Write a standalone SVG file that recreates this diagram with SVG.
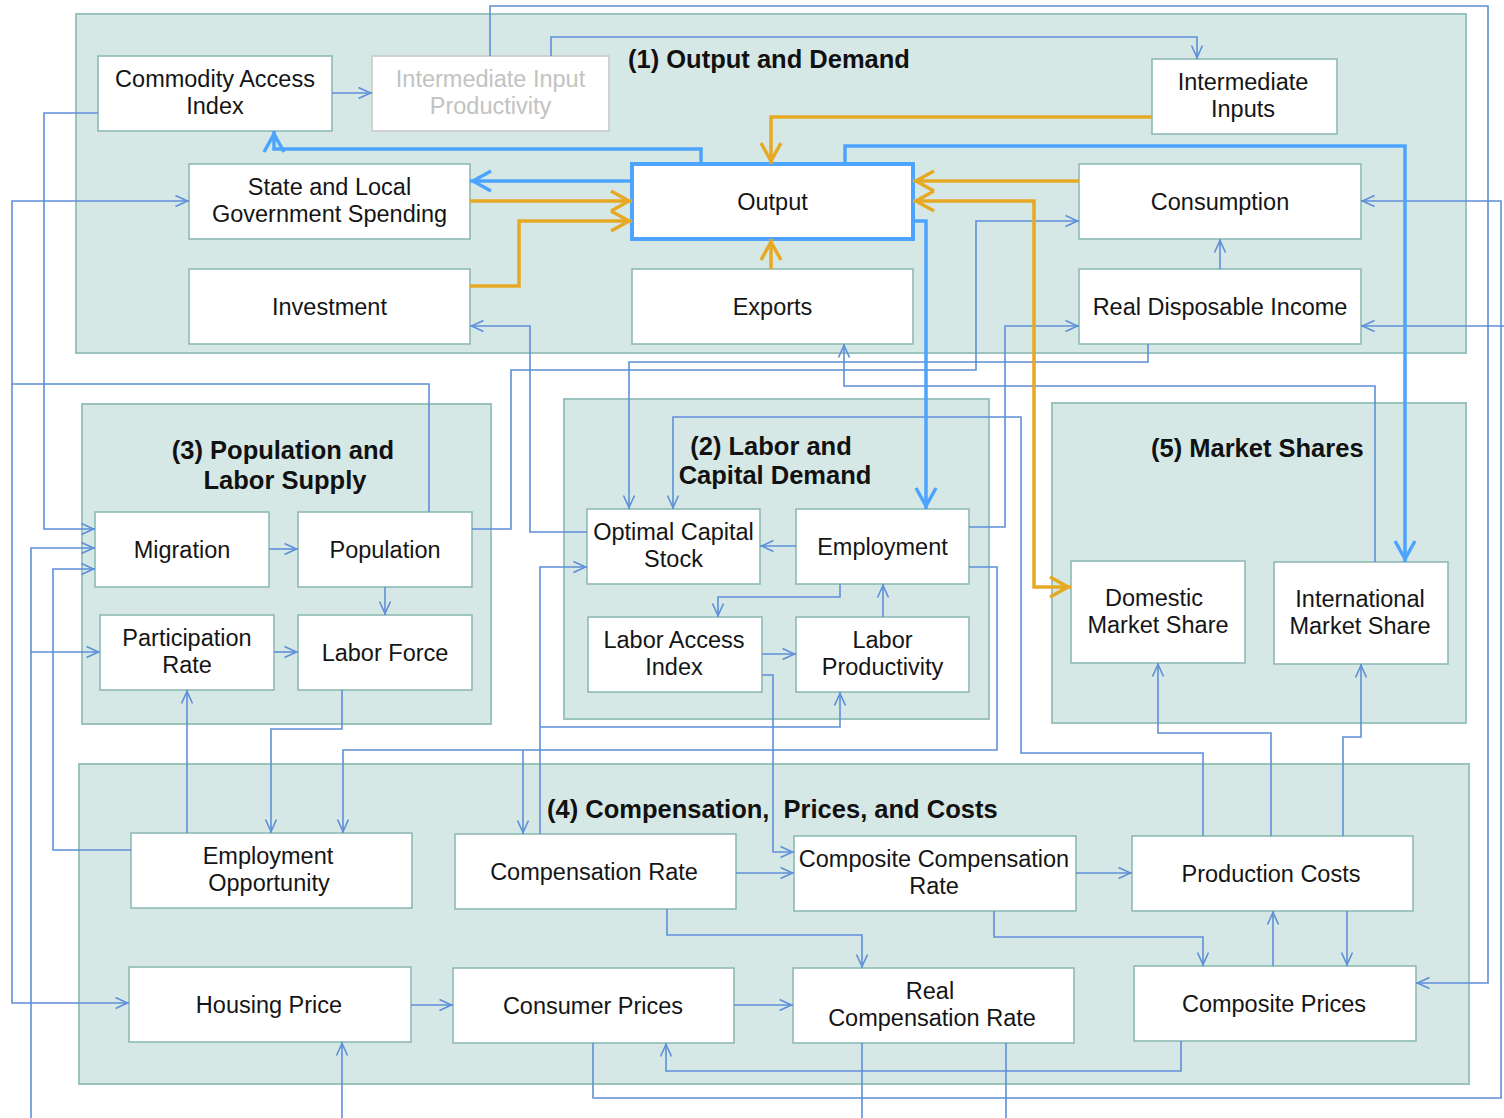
<svg xmlns="http://www.w3.org/2000/svg" width="1504" height="1118" viewBox="0 0 1504 1118">
  <style>
    .panel { fill: #d6e8e6; stroke: #9cc4bf; stroke-width: 2; }
    .node { fill: #ffffff; stroke: #8fbab5; stroke-width: 1.6; }
    .node.dim { stroke: #cacaca; }
    .node.main { stroke: #4ca4ff; stroke-width: 4; }
    .t { font-family: "Liberation Sans", Arial, sans-serif; font-size: 23.5px; fill: #151515; text-anchor: middle; }
    .t.dim { fill: #c2c2c2; }
    .h { font-family: "Liberation Sans", Arial, sans-serif; font-size: 25.5px; font-weight: bold; fill: #111111; }
    .c { fill: none; stroke: #5e8fd9; stroke-width: 1.6; marker-end: url(#a); }
    .c.n { marker-end: none; }
    .k { fill: none; stroke: #4ca4ff; stroke-width: 3.5; marker-end: url(#ab); }
    .g { fill: none; stroke: #e6a925; stroke-width: 3.5; marker-end: url(#ag); }
  </style>
  <defs>
    <marker id="a" markerUnits="userSpaceOnUse" viewBox="-16 -8 18 16" markerWidth="18" markerHeight="16" refX="0" refY="0" orient="auto" overflow="visible">
      <path d="M-13.5,-5.5 L-1.5,0 L-13.5,5.5" fill="none" stroke="#5e8fd9" stroke-width="1.6"/>
    </marker>
    <marker id="ab" markerUnits="userSpaceOnUse" viewBox="-24 -13 26 26" markerWidth="26" markerHeight="26" refX="0" refY="0" orient="auto" overflow="visible">
      <path d="M-21,-10 L-3,0 L-21,10" fill="none" stroke="#4ca4ff" stroke-width="3.5"/>
    </marker>
    <marker id="ag" markerUnits="userSpaceOnUse" viewBox="-24 -13 26 26" markerWidth="26" markerHeight="26" refX="0" refY="0" orient="auto-start-reverse" overflow="visible">
      <path d="M-21,-10 L-3,0 L-21,10" fill="none" stroke="#e6a925" stroke-width="3.5"/>
    </marker>
  </defs>

  <rect width="1504" height="1118" fill="#ffffff"/>

  <!-- block panels -->
  <g id="blocks">
    <rect class="panel" x="76" y="14" width="1390" height="339"/>
    <rect class="panel" x="82" y="404" width="409" height="320"/>
    <rect class="panel" x="564" y="399" width="425" height="320"/>
    <rect class="panel" x="1052" y="403" width="414" height="320"/>
    <rect class="panel" x="79" y="764" width="1390" height="320"/>
    <text class="h" x="628" y="68">(1) Output and Demand</text>
    <text class="h" x="283" y="459" text-anchor="middle">(3) Population and</text>
    <text class="h" x="285" y="489" text-anchor="middle">Labor Supply</text>
    <text class="h" x="771" y="455" text-anchor="middle">(2) Labor and</text>
    <text class="h" x="775" y="484" text-anchor="middle">Capital Demand</text>
    <text class="h" x="1151" y="457">(5) Market Shares</text>
    <text class="h" x="547" y="818" xml:space="preserve" style="white-space:pre">(4) Compensation,  Prices, and Costs</text>
  </g>

  <!-- (1) Output and Demand -->
  <g id="commodity-access-index">
    <rect class="node" x="98" y="56" width="234" height="75"/>
    <text class="t" x="215" y="87">Commodity Access</text>
    <text class="t" x="215" y="114">Index</text>
  </g>
  <g id="intermediate-input-productivity">
    <rect class="node dim" x="372" y="56" width="237" height="75"/>
    <text class="t dim" x="490.5" y="87">Intermediate Input</text>
    <text class="t dim" x="490.5" y="114">Productivity</text>
  </g>
  <g id="intermediate-inputs">
    <rect class="node" x="1152" y="59" width="185" height="75"/>
    <text class="t" x="1243" y="90">Intermediate</text>
    <text class="t" x="1243" y="117">Inputs</text>
  </g>
  <g id="state-local-spending">
    <rect class="node" x="189" y="164" width="281" height="75"/>
    <text class="t" x="329.5" y="195">State and Local</text>
    <text class="t" x="329.5" y="222">Government Spending</text>
  </g>
  <g id="output">
    <rect class="node main" x="632" y="164" width="281" height="75"/>
    <text class="t" x="772.5" y="209.5">Output</text>
  </g>
  <g id="consumption">
    <rect class="node" x="1079" y="164" width="282" height="75"/>
    <text class="t" x="1220" y="209.5">Consumption</text>
  </g>
  <g id="investment">
    <rect class="node" x="189" y="269" width="281" height="75"/>
    <text class="t" x="329.5" y="314.5">Investment</text>
  </g>
  <g id="exports">
    <rect class="node" x="632" y="269" width="281" height="75"/>
    <text class="t" x="772.5" y="314.5">Exports</text>
  </g>
  <g id="real-disposable-income">
    <rect class="node" x="1079" y="269" width="282" height="75"/>
    <text class="t" x="1220" y="314.5">Real Disposable Income</text>
  </g>

  <!-- (3) Population and Labor Supply -->
  <g id="migration">
    <rect class="node" x="95" y="512" width="174" height="75"/>
    <text class="t" x="182" y="557.5">Migration</text>
  </g>
  <g id="population">
    <rect class="node" x="298" y="512" width="174" height="75"/>
    <text class="t" x="385" y="557.5">Population</text>
  </g>
  <g id="participation-rate">
    <rect class="node" x="100" y="615" width="174" height="75"/>
    <text class="t" x="187" y="646">Participation</text>
    <text class="t" x="187" y="673">Rate</text>
  </g>
  <g id="labor-force">
    <rect class="node" x="298" y="615" width="174" height="75"/>
    <text class="t" x="385" y="660.5">Labor Force</text>
  </g>

  <!-- (2) Labor and Capital Demand -->
  <g id="optimal-capital-stock">
    <rect class="node" x="587" y="509" width="173" height="75"/>
    <text class="t" x="673.5" y="540">Optimal Capital</text>
    <text class="t" x="673.5" y="567">Stock</text>
  </g>
  <g id="employment">
    <rect class="node" x="796" y="509" width="173" height="75"/>
    <text class="t" x="882.5" y="554.5">Employment</text>
  </g>
  <g id="labor-access-index">
    <rect class="node" x="588" y="617" width="174" height="75"/>
    <text class="t" x="674" y="648">Labor Access</text>
    <text class="t" x="674" y="675">Index</text>
  </g>
  <g id="labor-productivity">
    <rect class="node" x="796" y="617" width="173" height="75"/>
    <text class="t" x="882.5" y="648">Labor</text>
    <text class="t" x="882.5" y="675">Productivity</text>
  </g>

  <!-- (5) Market Shares -->
  <g id="domestic-market-share">
    <rect class="node" x="1071" y="561" width="174" height="102"/>
    <text class="t" x="1154" y="606">Domestic</text>
    <text class="t" x="1158" y="633">Market Share</text>
  </g>
  <g id="international-market-share">
    <rect class="node" x="1274" y="562" width="174" height="102"/>
    <text class="t" x="1360" y="607">International</text>
    <text class="t" x="1360" y="634">Market Share</text>
  </g>

  <!-- (4) Compensation, Prices, and Costs -->
  <g id="employment-opportunity">
    <rect class="node" x="131" y="833" width="281" height="75"/>
    <text class="t" x="268" y="864">Employment</text>
    <text class="t" x="269" y="891">Opportunity</text>
  </g>
  <g id="compensation-rate">
    <rect class="node" x="455" y="834" width="281" height="75"/>
    <text class="t" x="594" y="880">Compensation Rate</text>
  </g>
  <g id="composite-compensation-rate">
    <rect class="node" x="794" y="836" width="282" height="75"/>
    <text class="t" x="934" y="867">Composite Compensation</text>
    <text class="t" x="934" y="894">Rate</text>
  </g>
  <g id="production-costs">
    <rect class="node" x="1132" y="836" width="281" height="75"/>
    <text class="t" x="1271" y="882">Production Costs</text>
  </g>
  <g id="housing-price">
    <rect class="node" x="129" y="967" width="282" height="75"/>
    <text class="t" x="269" y="1012.5">Housing Price</text>
  </g>
  <g id="consumer-prices">
    <rect class="node" x="453" y="968" width="281" height="75"/>
    <text class="t" x="593" y="1013.5">Consumer Prices</text>
  </g>
  <g id="real-compensation-rate">
    <rect class="node" x="793" y="968" width="281" height="75"/>
    <text class="t" x="930" y="999">Real</text>
    <text class="t" x="932" y="1026">Compensation Rate</text>
  </g>
  <g id="composite-prices">
    <rect class="node" x="1134" y="966" width="282" height="75"/>
    <text class="t" x="1274" y="1012">Composite Prices</text>
  </g>

  <!-- connectors -->
  <g id="connectors">
    <!-- thin links -->
    <path class="c" d="M332,93 H372"/>
    <path class="c" d="M490,56 V6 H1488 V983 H1416"/>
    <path class="c" d="M551,56 V37 H1197 V59"/>
    <path class="c" d="M98,113 H44 V529 H95"/>
    <path class="c" d="M429,512 V384 H12 V201 H189"/>
    <path class="c" d="M12,384 V1003 H129"/>
    <path class="c" d="M31,1118 V548 H95"/>
    <path class="c" d="M31,652 H100"/>
    <path class="c" d="M131,850 H53 V569 H95"/>
    <path class="c" d="M269,549 H298"/>
    <path class="c" d="M385,587 V615"/>
    <path class="c" d="M274,652 H298"/>
    <path class="c" d="M342,690 V729 H271 V833"/>
    <path class="c" d="M187,833 V690"/>
    <path class="c" d="M969,567 H997 V750 H343 V833"/>
    <path class="c" d="M523,750 V834"/>
    <path class="c" d="M540,834 V567 H587"/>
    <path class="c" d="M540,727 H840 V692"/>
    <path class="c" d="M762,675 H773 V852 H794"/>
    <path class="c" d="M736,873 H794"/>
    <path class="c" d="M1076,873 H1132"/>
    <path class="c" d="M667,909 V935 H862 V968"/>
    <path class="c" d="M994,911 V937 H1203 V966"/>
    <path class="c" d="M1273,966 V911"/>
    <path class="c" d="M1347,911 V966"/>
    <path class="c" d="M411,1005 H453"/>
    <path class="c" d="M734,1005 H793"/>
    <path class="c" d="M1181,1041 V1071 H666 V1043"/>
    <path class="c" d="M593,1043 V1098 H1501 V201 H1361"/>
    <path class="c" d="M1504,326 H1361"/>
    <path class="c n" d="M862,1043 V1118"/>
    <path class="c n" d="M1006,1043 V1118"/>
    <path class="c" d="M342,1118 V1042"/>
    <path class="c" d="M1148,344 V362 H629 V509"/>
    <path class="c" d="M472,529 H511 V370 H976 V221 H1079"/>
    <path class="c" d="M1375,562 V386 H844 V344"/>
    <path class="c" d="M969,527 H1005 V326 H1079"/>
    <path class="c" d="M587,532 H530 V326 H470"/>
    <path class="c" d="M1203,836 V753 H1021 V417 H673 V509"/>
    <path class="c" d="M840,584 V597 H718 V617"/>
    <path class="c" d="M796,546 H760"/>
    <path class="c" d="M762,654 H796"/>
    <path class="c" d="M883,617 V584"/>
    <path class="c" d="M1271,836 V733 H1158 V663"/>
    <path class="c" d="M1343,836 V737 H1361 V664"/>
    <path class="c" d="M1220,269 V239"/>

    <!-- output links -->
    <path class="k" d="M701,164 V149 H274 V131"/>
    <path class="k" d="M632,181 H470"/>
    <path class="k" d="M845,164 V146 H1405 V562"/>
    <path class="k" d="M913,221 H926 V509"/>

    <!-- demand links -->
    <path class="g" d="M1152,117 H771 V164"/>
    <path class="g" d="M470,201 H632"/>
    <path class="g" d="M470,286 H519 V221 H632"/>
    <path class="g" d="M771,269 V239"/>
    <path class="g" d="M1079,181 H913"/>
    <path class="g" d="M913,201 H1034 V587 H1071" style="marker-start:url(#ag)"/>
  </g>
</svg>
